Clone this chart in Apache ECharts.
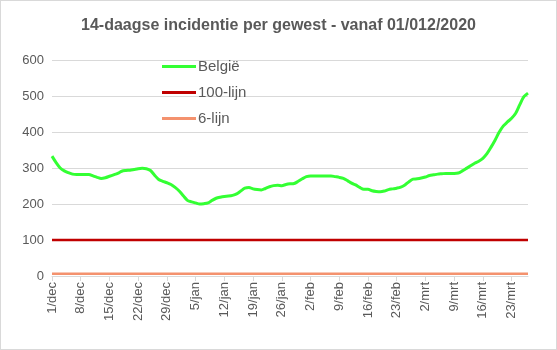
<!DOCTYPE html>
<html>
<head>
<meta charset="utf-8">
<script src="https://cdn.jsdelivr.net/npm/echarts@6/dist/echarts.min.js"></script>
<style>
html,body{margin:0;padding:0;background:#fff;}
#c{width:557px;height:350px;box-sizing:border-box;border:1px solid #d9d9d9;}
</style>
</head>
<body>
<div id="c"></div>
<script>
var startDate = [2020, 11, 1];
var dayCount = 117;
var monthNames = ['jan','feb','mrt','apr','mei','jun','jul','aug','sep','okt','nov','dec'];
var belgie = [333,315,300,292,287,283,282,282,282,282,278,274,271,273,277,281,285,291,293,294,
  296,298,299,298,293,280,268,263,259,254,246,236,223,210,206,203,200,201,203,210,
  216,219,221,222,224,228,236,244,246,242,240,239,243,248,251,252,251,254,256,257,
  263,270,276,278,278,278,278,278,278,276,274,271,265,258,253,246,241,241,237,235,
  234,236,240,242,244,247,253,262,269,270,272,275,279,281,283,284,285,285,285,286,
  292,299,306,313,319,327,340,358,378,400,417,428,438,452,476,498,508];
var lijn100Value = 100;
var lijn6Value = 6;
var yTicks = [0,100,200,300,400,500,600];

var categories = [];
for (var i = 0; i < dayCount; i++) {
  var d = new Date(Date.UTC(startDate[0], startDate[1], startDate[2] + i));
  categories.push(d.getUTCDate() + '/' + monthNames[d.getUTCMonth()]);
}
var lijn100 = categories.map(function(){ return lijn100Value; });
var lijn6 = categories.map(function(){ return lijn6Value; });

var chart = echarts.init(document.getElementById('c'));
var txt = '#595959';
chart.setOption({
  animation: false,
  title: {
    text: '14-daagse incidentie per gewest - vanaf 01/012/2020',
    left: 'center', top: 12,
    textStyle: {fontFamily: 'Liberation Sans', fontWeight: 'bold', fontSize: 16, color: txt}
  },
  legend: {
    orient: 'vertical', left: 156, top: 57, padding: [0,5,0,5],
    icon: 'rect', itemWidth: 34, itemHeight: 3, itemGap: 9,
    textStyle: {fontFamily: 'Liberation Sans', fontSize: 15, lineHeight: 17, color: txt, padding: [0,0,0,-3]},
    data: ['België','100-lijn','6-lijn']
  },
  grid: {left: 51, right: 28, top: 59, bottom: 73},
  xAxis: {
    type: 'category', data: categories, boundaryGap: false,
    axisLine: {lineStyle: {color: '#d9d9d9', width: 1}},
    axisTick: {show: true, interval: 6, length: 5, lineStyle: {color: '#d9d9d9'}},
    axisLabel: {interval: 6, rotate: 90, fontFamily: 'Liberation Sans', fontSize: 13, color: txt, margin: 6}
  },
  yAxis: {
    type: 'value', min: yTicks[0], max: yTicks[yTicks.length-1], interval: 100,
    axisLine: {show: false}, axisTick: {show: false},
    splitLine: {lineStyle: {color: '#d9d9d9', width: 1}},
    axisLabel: {fontFamily: 'Liberation Sans', fontSize: 13, color: txt, margin: 8}
  },
  series: [
    {name: 'België', type: 'line', data: belgie, symbol: 'none', smooth: 0.3,
     lineStyle: {color: '#33ff33', width: 3}, itemStyle: {color: '#33ff33'}},
    {name: '100-lijn', type: 'line', data: lijn100, symbol: 'none',
     lineStyle: {color: '#c00000', width: 2.5}, itemStyle: {color: '#c00000'}},
    {name: '6-lijn', type: 'line', data: lijn6, symbol: 'none',
     lineStyle: {color: '#f4926e', width: 2.5}, itemStyle: {color: '#f4926e'}}
  ]
});
</script>
</body>
</html>
